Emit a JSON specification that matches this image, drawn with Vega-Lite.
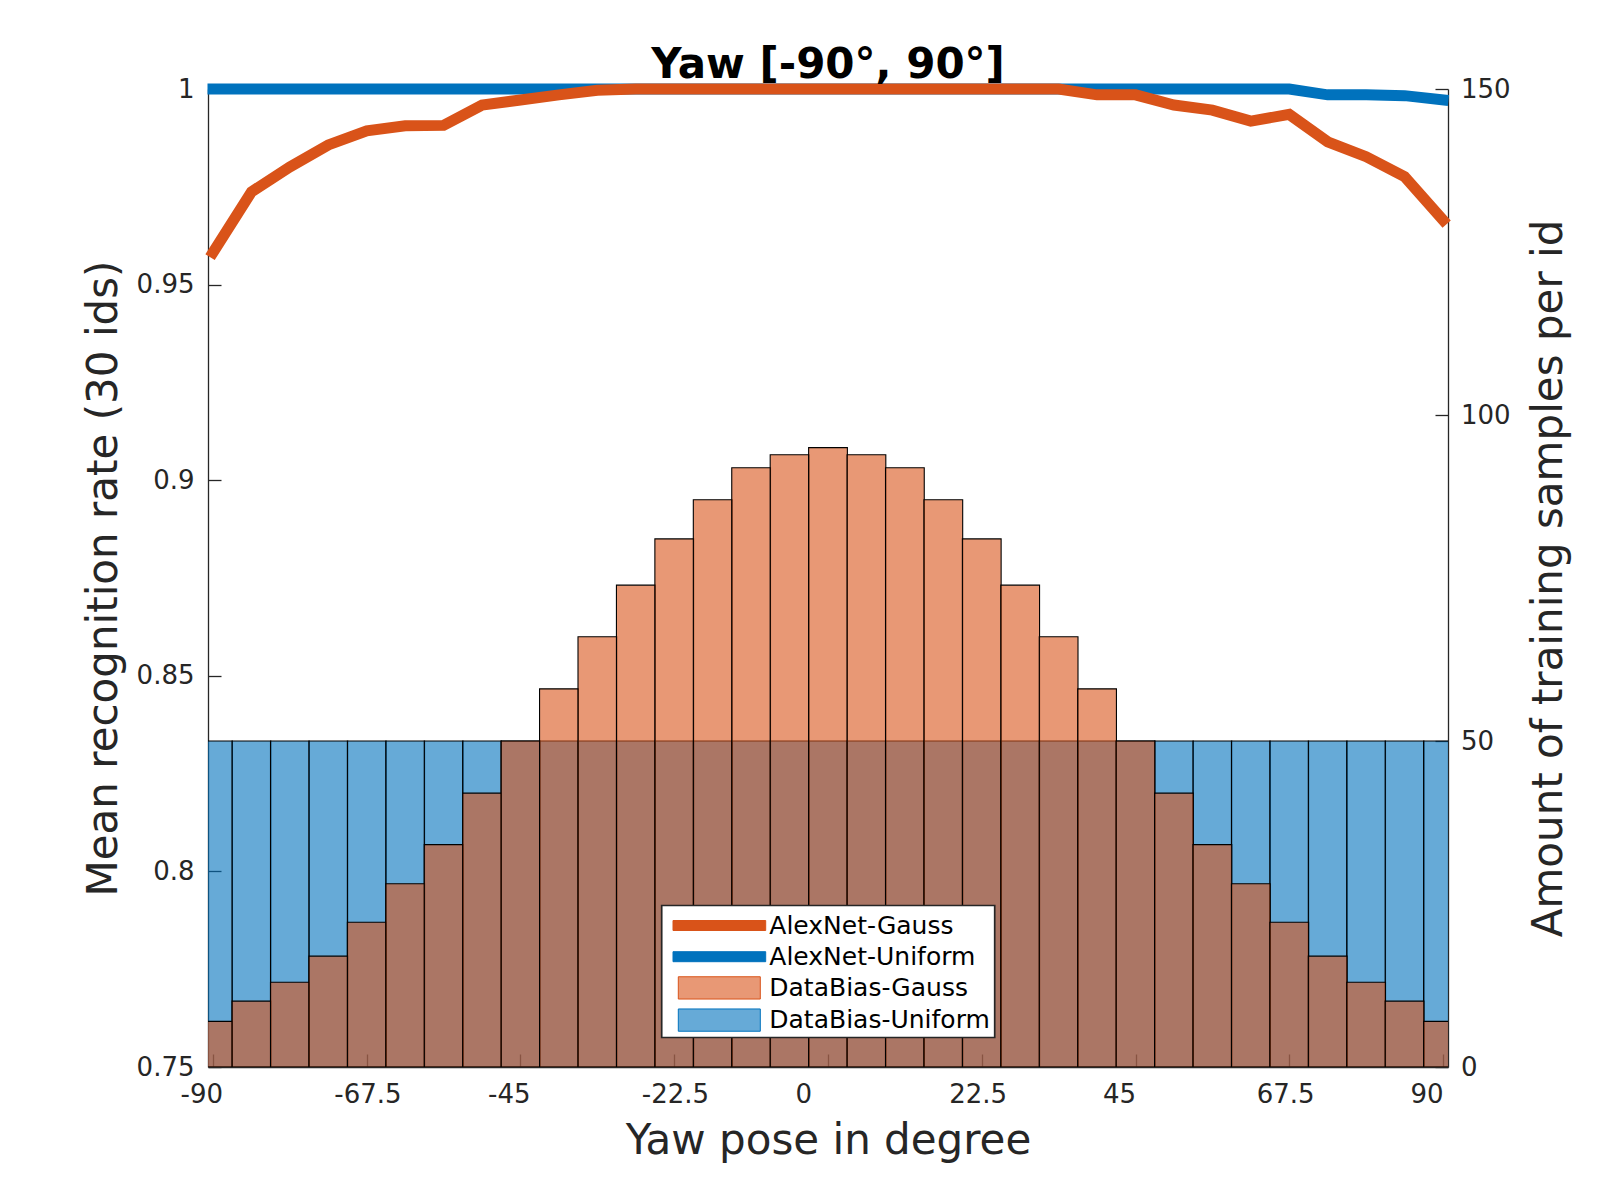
{
  "$schema": "https://vega.github.io/schema/vega-lite/v6.json",
  "width": 1240,
  "height": 978,
  "autosize": {"type": "none"},
  "padding": {"left": 208, "top": 89, "right": 152, "bottom": 133},
  "background": "white",
  "title": {
    "text": "Yaw [-90°, 90°]",
    "font": "DejaVu Sans",
    "fontSize": 42,
    "fontWeight": "bold",
    "color": "#000000",
    "anchor": "middle",
    "baseline": "alphabetic",
    "offset": 1,
    "dy": 54
  },
  "config": {
    "view": {"stroke": null},
    "font": "DejaVu Sans",
    "axis": {
      "grid": false,
      "domainColor": "#262626",
      "domainWidth": 1.3,
      "tickColor": "#262626",
      "tickWidth": 1.3,
      "tickSize": -13,
      "labelFont": "DejaVu Sans",
      "labelFontSize": 26,
      "labelColor": "#262626",
      "labelOverlap": false,
      "titleFont": "DejaVu Sans",
      "titleFontSize": 42,
      "titleFontWeight": "normal",
      "titleColor": "#262626",
      "zindex": 1
    },
    "legend": {
      "orient": "none",
      "legendX": 453.7,
      "legendY": 816.5,
      "direction": "vertical",
      "padding": 4,
      "rowPadding": 2.2,
      "fillColor": "#ffffff",
      "strokeColor": "#262626",
      "cornerRadius": 0,
      "symbolSize": 961,
      "symbolStrokeWidth": 1,
      "labelFont": "DejaVu Sans",
      "labelFontSize": 25,
      "labelColor": "#000000",
      "labelBaseline": "middle",
      "labelOffset": 71.6,
      "labelLimit": 400
    }
  },
  "datasets": {
    "bias": [
      {"yaw": -90, "series": "DataBias-Uniform", "samples": 50},
      {"yaw": -84.375, "series": "DataBias-Uniform", "samples": 50},
      {"yaw": -78.75, "series": "DataBias-Uniform", "samples": 50},
      {"yaw": -73.125, "series": "DataBias-Uniform", "samples": 50},
      {"yaw": -67.5, "series": "DataBias-Uniform", "samples": 50},
      {"yaw": -61.875, "series": "DataBias-Uniform", "samples": 50},
      {"yaw": -56.25, "series": "DataBias-Uniform", "samples": 50},
      {"yaw": -50.625, "series": "DataBias-Uniform", "samples": 50},
      {"yaw": -45, "series": "DataBias-Uniform", "samples": 50},
      {"yaw": -39.375, "series": "DataBias-Uniform", "samples": 50},
      {"yaw": -33.75, "series": "DataBias-Uniform", "samples": 50},
      {"yaw": -28.125, "series": "DataBias-Uniform", "samples": 50},
      {"yaw": -22.5, "series": "DataBias-Uniform", "samples": 50},
      {"yaw": -16.875, "series": "DataBias-Uniform", "samples": 50},
      {"yaw": -11.25, "series": "DataBias-Uniform", "samples": 50},
      {"yaw": -5.625, "series": "DataBias-Uniform", "samples": 50},
      {"yaw": 0, "series": "DataBias-Uniform", "samples": 50},
      {"yaw": 5.625, "series": "DataBias-Uniform", "samples": 50},
      {"yaw": 11.25, "series": "DataBias-Uniform", "samples": 50},
      {"yaw": 16.875, "series": "DataBias-Uniform", "samples": 50},
      {"yaw": 22.5, "series": "DataBias-Uniform", "samples": 50},
      {"yaw": 28.125, "series": "DataBias-Uniform", "samples": 50},
      {"yaw": 33.75, "series": "DataBias-Uniform", "samples": 50},
      {"yaw": 39.375, "series": "DataBias-Uniform", "samples": 50},
      {"yaw": 45, "series": "DataBias-Uniform", "samples": 50},
      {"yaw": 50.625, "series": "DataBias-Uniform", "samples": 50},
      {"yaw": 56.25, "series": "DataBias-Uniform", "samples": 50},
      {"yaw": 61.875, "series": "DataBias-Uniform", "samples": 50},
      {"yaw": 67.5, "series": "DataBias-Uniform", "samples": 50},
      {"yaw": 73.125, "series": "DataBias-Uniform", "samples": 50},
      {"yaw": 78.75, "series": "DataBias-Uniform", "samples": 50},
      {"yaw": 84.375, "series": "DataBias-Uniform", "samples": 50},
      {"yaw": 90, "series": "DataBias-Uniform", "samples": 50},
      {"yaw": -90, "series": "DataBias-Gauss", "samples": 7.0},
      {"yaw": -84.375, "series": "DataBias-Gauss", "samples": 10.1},
      {"yaw": -78.75, "series": "DataBias-Gauss", "samples": 13.0},
      {"yaw": -73.125, "series": "DataBias-Gauss", "samples": 17.0},
      {"yaw": -67.5, "series": "DataBias-Gauss", "samples": 22.2},
      {"yaw": -61.875, "series": "DataBias-Gauss", "samples": 28.1},
      {"yaw": -56.25, "series": "DataBias-Gauss", "samples": 34.1},
      {"yaw": -50.625, "series": "DataBias-Gauss", "samples": 42.0},
      {"yaw": -45, "series": "DataBias-Gauss", "samples": 50.0},
      {"yaw": -39.375, "series": "DataBias-Gauss", "samples": 58.0},
      {"yaw": -33.75, "series": "DataBias-Gauss", "samples": 66.0},
      {"yaw": -28.125, "series": "DataBias-Gauss", "samples": 73.9},
      {"yaw": -22.5, "series": "DataBias-Gauss", "samples": 81.0},
      {"yaw": -16.875, "series": "DataBias-Gauss", "samples": 87.0},
      {"yaw": -11.25, "series": "DataBias-Gauss", "samples": 91.9},
      {"yaw": -5.625, "series": "DataBias-Gauss", "samples": 93.9},
      {"yaw": 0, "series": "DataBias-Gauss", "samples": 95.0},
      {"yaw": 5.625, "series": "DataBias-Gauss", "samples": 93.9},
      {"yaw": 11.25, "series": "DataBias-Gauss", "samples": 91.9},
      {"yaw": 16.875, "series": "DataBias-Gauss", "samples": 87.0},
      {"yaw": 22.5, "series": "DataBias-Gauss", "samples": 81.0},
      {"yaw": 28.125, "series": "DataBias-Gauss", "samples": 73.9},
      {"yaw": 33.75, "series": "DataBias-Gauss", "samples": 66.0},
      {"yaw": 39.375, "series": "DataBias-Gauss", "samples": 58.0},
      {"yaw": 45, "series": "DataBias-Gauss", "samples": 50.0},
      {"yaw": 50.625, "series": "DataBias-Gauss", "samples": 42.0},
      {"yaw": 56.25, "series": "DataBias-Gauss", "samples": 34.1},
      {"yaw": 61.875, "series": "DataBias-Gauss", "samples": 28.1},
      {"yaw": 67.5, "series": "DataBias-Gauss", "samples": 22.2},
      {"yaw": 73.125, "series": "DataBias-Gauss", "samples": 17.0},
      {"yaw": 78.75, "series": "DataBias-Gauss", "samples": 13.0},
      {"yaw": 84.375, "series": "DataBias-Gauss", "samples": 10.1},
      {"yaw": 90, "series": "DataBias-Gauss", "samples": 7.0}
    ],
    "acc": [
      {"yaw": -90, "series": "AlexNet-Uniform", "rate": 1},
      {"yaw": -84.375, "series": "AlexNet-Uniform", "rate": 1},
      {"yaw": -78.75, "series": "AlexNet-Uniform", "rate": 1},
      {"yaw": -73.125, "series": "AlexNet-Uniform", "rate": 1},
      {"yaw": -67.5, "series": "AlexNet-Uniform", "rate": 1},
      {"yaw": -61.875, "series": "AlexNet-Uniform", "rate": 1},
      {"yaw": -56.25, "series": "AlexNet-Uniform", "rate": 1},
      {"yaw": -50.625, "series": "AlexNet-Uniform", "rate": 1},
      {"yaw": -45, "series": "AlexNet-Uniform", "rate": 1},
      {"yaw": -39.375, "series": "AlexNet-Uniform", "rate": 1},
      {"yaw": -33.75, "series": "AlexNet-Uniform", "rate": 1},
      {"yaw": -28.125, "series": "AlexNet-Uniform", "rate": 1},
      {"yaw": -22.5, "series": "AlexNet-Uniform", "rate": 1},
      {"yaw": -16.875, "series": "AlexNet-Uniform", "rate": 1},
      {"yaw": -11.25, "series": "AlexNet-Uniform", "rate": 1},
      {"yaw": -5.625, "series": "AlexNet-Uniform", "rate": 1},
      {"yaw": 0, "series": "AlexNet-Uniform", "rate": 1},
      {"yaw": 5.625, "series": "AlexNet-Uniform", "rate": 1},
      {"yaw": 11.25, "series": "AlexNet-Uniform", "rate": 1},
      {"yaw": 16.875, "series": "AlexNet-Uniform", "rate": 1},
      {"yaw": 22.5, "series": "AlexNet-Uniform", "rate": 1},
      {"yaw": 28.125, "series": "AlexNet-Uniform", "rate": 1},
      {"yaw": 33.75, "series": "AlexNet-Uniform", "rate": 1},
      {"yaw": 39.375, "series": "AlexNet-Uniform", "rate": 1},
      {"yaw": 45, "series": "AlexNet-Uniform", "rate": 1},
      {"yaw": 50.625, "series": "AlexNet-Uniform", "rate": 1},
      {"yaw": 56.25, "series": "AlexNet-Uniform", "rate": 1},
      {"yaw": 61.875, "series": "AlexNet-Uniform", "rate": 1},
      {"yaw": 67.5, "series": "AlexNet-Uniform", "rate": 1},
      {"yaw": 73.125, "series": "AlexNet-Uniform", "rate": 0.9985},
      {"yaw": 78.75, "series": "AlexNet-Uniform", "rate": 0.9985},
      {"yaw": 84.375, "series": "AlexNet-Uniform", "rate": 0.9983},
      {"yaw": 90, "series": "AlexNet-Uniform", "rate": 0.9972},
      {"yaw": -90, "series": "AlexNet-Gauss", "rate": 0.9582},
      {"yaw": -84.375, "series": "AlexNet-Gauss", "rate": 0.9737},
      {"yaw": -78.75, "series": "AlexNet-Gauss", "rate": 0.9801},
      {"yaw": -73.125, "series": "AlexNet-Gauss", "rate": 0.9857},
      {"yaw": -67.5, "series": "AlexNet-Gauss", "rate": 0.9893},
      {"yaw": -61.875, "series": "AlexNet-Gauss", "rate": 0.9906},
      {"yaw": -56.25, "series": "AlexNet-Gauss", "rate": 0.9907},
      {"yaw": -50.625, "series": "AlexNet-Gauss", "rate": 0.9959},
      {"yaw": -45, "series": "AlexNet-Gauss", "rate": 0.9972},
      {"yaw": -39.375, "series": "AlexNet-Gauss", "rate": 0.9985},
      {"yaw": -33.75, "series": "AlexNet-Gauss", "rate": 0.9997},
      {"yaw": -28.125, "series": "AlexNet-Gauss", "rate": 1},
      {"yaw": -22.5, "series": "AlexNet-Gauss", "rate": 1},
      {"yaw": -16.875, "series": "AlexNet-Gauss", "rate": 1},
      {"yaw": -11.25, "series": "AlexNet-Gauss", "rate": 1},
      {"yaw": -5.625, "series": "AlexNet-Gauss", "rate": 1},
      {"yaw": 0, "series": "AlexNet-Gauss", "rate": 1},
      {"yaw": 5.625, "series": "AlexNet-Gauss", "rate": 1},
      {"yaw": 11.25, "series": "AlexNet-Gauss", "rate": 1},
      {"yaw": 16.875, "series": "AlexNet-Gauss", "rate": 1},
      {"yaw": 22.5, "series": "AlexNet-Gauss", "rate": 1},
      {"yaw": 28.125, "series": "AlexNet-Gauss", "rate": 1},
      {"yaw": 33.75, "series": "AlexNet-Gauss", "rate": 1},
      {"yaw": 39.375, "series": "AlexNet-Gauss", "rate": 0.9985},
      {"yaw": 45, "series": "AlexNet-Gauss", "rate": 0.9985},
      {"yaw": 50.625, "series": "AlexNet-Gauss", "rate": 0.9959},
      {"yaw": 56.25, "series": "AlexNet-Gauss", "rate": 0.9946},
      {"yaw": 61.875, "series": "AlexNet-Gauss", "rate": 0.9918},
      {"yaw": 67.5, "series": "AlexNet-Gauss", "rate": 0.9935},
      {"yaw": 73.125, "series": "AlexNet-Gauss", "rate": 0.9865},
      {"yaw": 78.75, "series": "AlexNet-Gauss", "rate": 0.9827},
      {"yaw": 84.375, "series": "AlexNet-Gauss", "rate": 0.9776},
      {"yaw": 90, "series": "AlexNet-Gauss", "rate": 0.9665}
    ]
  },
  "layer": [
    {
      "data": {"name": "bias"},
      "mark": {"type": "bar", "width": 38.75, "fillOpacity": 0.6, "stroke": "#000000", "strokeWidth": 1.1, "clip": true},
      "encoding": {
        "x": {
          "field": "yaw",
          "type": "quantitative",
          "scale": {"domain": [-90, 90], "nice": false, "zero": false},
          "axis": {
            "orient": "bottom",
            "title": "Yaw pose in degree",
            "values": [-90, -67.5, -45, -22.5, 0, 22.5, 45, 67.5, 90],
            "labelExpr": "toString(datum.value)",
            "labelAlign": "left",
            "labelOffset": -33,
            "labelFlush": false,
            "labelPadding": 27,
            "titlePadding": 13
          }
        },
        "y": {
          "field": "samples",
          "type": "quantitative",
          "stack": null,
          "scale": {"domain": [0, 150], "nice": false},
          "axis": {
            "orient": "right",
            "title": "Amount of training samples per id",
            "values": [0, 50, 100, 150],
            "labelPadding": 25.4,
            "titlePadding": 18,
            "titleAngle": 270,
            "titleBaseline": "top"
          }
        },
        "color": {
          "field": "series",
          "type": "nominal",
          "scale": {
            "domain": ["AlexNet-Gauss", "AlexNet-Uniform", "DataBias-Gauss", "DataBias-Uniform"],
            "range": ["#D95319", "#0072BD", "#D95319", "#0072BD"]
          },
          "legend": {
            "title": null,
            "encode": {
              "legend": {"update": {"strokeWidth": {"value": 1.7}}},
              "symbols": {
                "update": {
                  "shape": {"signal": "indexof(datum.value, 'AlexNet') === 0 ? 'M-0.561,-0.3226H5.419V0.3226H-0.561Z' : 'M-0.219,-0.719H5.071V0.719H-0.219Z'"},
                  "fill": {"signal": "indexof(datum.value, 'Gauss') >= 0 ? '#D95319' : '#0072BD'"},
                  "fillOpacity": {"signal": "indexof(datum.value, 'DataBias') === 0 ? 0.6 : 1"},
                  "stroke": {"signal": "indexof(datum.value, 'DataBias') === 0 ? '#000000' : 'transparent'"},
                  "strokeWidth": {"value": 1},
                  "size": {"value": 961},
                  "opacity": {"value": 1}
                }
              }
            }
          }
        }
      }
    },
    {
      "data": {"name": "acc"},
      "mark": {"type": "line", "strokeWidth": 11, "strokeCap": "square"},
      "encoding": {
        "x": {
          "field": "yaw",
          "type": "quantitative",
          "scale": {"domain": [-90, 90], "nice": false, "zero": false},
          "axis": {
            "orient": "bottom",
            "title": "Yaw pose in degree",
            "values": [-90, -67.5, -45, -22.5, 0, 22.5, 45, 67.5, 90],
            "labelExpr": "toString(datum.value)",
            "labelAlign": "left",
            "labelOffset": -33,
            "labelFlush": false,
            "labelPadding": 27,
            "titlePadding": 13
          }
        },
        "y": {
          "field": "rate",
          "type": "quantitative",
          "scale": {"domain": [0.75, 1], "nice": false, "zero": false},
          "axis": {
            "orient": "left",
            "title": "Mean recognition rate (30 ids)",
            "values": [0.75, 0.8, 0.85, 0.9, 0.95, 1],
            "labelExpr": "toString(datum.value)",
            "labelPadding": 27,
            "titlePadding": 11
          }
        },
        "color": {
          "field": "series",
          "type": "nominal",
          "scale": {
            "domain": ["AlexNet-Gauss", "AlexNet-Uniform", "DataBias-Gauss", "DataBias-Uniform"],
            "range": ["#D95319", "#0072BD", "#D95319", "#0072BD"]
          },
          "legend": {
            "title": null,
            "encode": {
              "legend": {"update": {"strokeWidth": {"value": 1.7}}},
              "symbols": {
                "update": {
                  "shape": {"signal": "indexof(datum.value, 'AlexNet') === 0 ? 'M-0.561,-0.3226H5.419V0.3226H-0.561Z' : 'M-0.219,-0.719H5.071V0.719H-0.219Z'"},
                  "fill": {"signal": "indexof(datum.value, 'Gauss') >= 0 ? '#D95319' : '#0072BD'"},
                  "fillOpacity": {"signal": "indexof(datum.value, 'DataBias') === 0 ? 0.6 : 1"},
                  "stroke": {"signal": "indexof(datum.value, 'DataBias') === 0 ? '#000000' : 'transparent'"},
                  "strokeWidth": {"value": 1},
                  "size": {"value": 961},
                  "opacity": {"value": 1}
                }
              }
            }
          }
        }
      }
    }
  ],
  "resolve": {"scale": {"y": "independent"}}
}
